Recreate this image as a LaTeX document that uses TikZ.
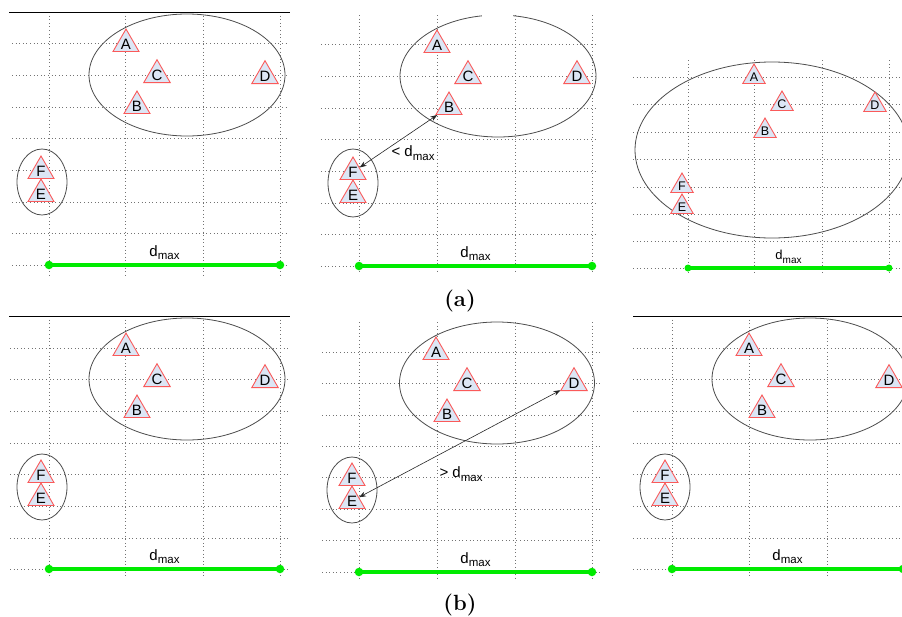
\documentclass[tikz,border=0pt]{standalone}
\usepackage{fontspec}
\newfontfamily\labelfont{Liberation Sans}
\usetikzlibrary{shapes.geometric}
\usetikzlibrary{arrows.meta}
\definecolor{stationred}{RGB}{250,90,90}
\definecolor{stationfill}{RGB}{220,230,245}
\definecolor{bargreen}{RGB}{0,235,0}
\newcommand{\dmaxlab}[1][11.5]{d\raisebox{-0.25em}{\fontsize{#1}{#1}\selectfont max}}

\begin{document}
\begin{tikzpicture}[x=1pt,y=-1pt,
  gridln/.style={black!55,line width=0.8pt,dash pattern=on 0.9pt off 2.7pt},
  topln/.style={black,line width=0.9pt},
  cluster/.style={black!70,line width=0.8pt},
  station/.style={regular polygon,regular polygon sides=3,draw=stationred,
                  fill=stationfill,line width=0.9pt,inner sep=0pt,minimum size=30pt,
                  font=\labelfont\fontsize{15}{15}\selectfont},
  smallstation/.style={station,minimum size=26pt,font=\labelfont\fontsize{12.5}{12.5}\selectfont},
  dbar/.style={draw=bargreen,line width=4pt},
  bardot/.style={circle,fill=bargreen,inner sep=0pt,minimum size=8.5pt},
  dlab/.style={font=\labelfont\fontsize{15}{15}\selectfont,inner sep=1pt},
  distarr/.style={black!85,line width=0.6pt,
                  {Stealth[length=7pt,width=5pt]}-{Stealth[length=7pt,width=5pt]}},
  caption/.style={font=\fontsize{22}{22}\selectfont\bfseries,anchor=base}]

  \useasboundingbox (0,0) rectangle (902,616);

  % ===== (a) left: two clusters =====
  \foreach \x in {49,125,203,280} \draw[gridln] (\x,12) -- (\x,277);
  \foreach \y in {43,75,107,138,170,202,233,265} \draw[gridln] (12,\y) -- (288,\y);
  \draw[topln] (9,12) -- (290,12);
  \draw[cluster] (187,75) ellipse [x radius=98pt,y radius=61pt];
  \draw[cluster] (42,182) ellipse [x radius=25pt,y radius=33pt];
  \node[bardot] (g1l) at (49,265) {};
  \node[bardot] (g1r) at (280,265) {};
  \draw[dbar] (g1l.center) -- (g1r.center) node[dlab,midway,above=2pt] (dm1) {\dmaxlab};
  \node[station] (A1) at (126,44) {A};
  \node[station] (C1) at (157,75) {C};
  \node[station] (D1) at (265,76) {D};
  \node[station] (B1) at (137,106) {B};
  \node[station] (F1) at (41,171) {F};
  \node[station] (E1) at (41,194) {E};

  % ===== (a) middle: F-B closer than d_max =====
  \foreach \x in {359,437,515,592} \draw[gridln] (\x,15) -- (\x,273);
  \foreach \y in {44,76,108,139,171,203,234,266} \draw[gridln] (321,\y) -- (598,\y);
  \draw[cluster] (498,76) ellipse [x radius=98pt,y radius=61pt];
  \fill[white] (482,9) rectangle (513,19);
  \draw[cluster] (353,183) ellipse [x radius=25pt,y radius=34pt];
  \node[bardot] (g2l) at (359,266) {};
  \node[bardot] (g2r) at (592,266) {};
  \draw[dbar] (g2l.center) -- (g2r.center) node[dlab,midway,above=2pt] (dm2) {\dmaxlab};
  \node[station] (A2) at (437,45) {A};
  \node[station] (C2) at (468,76) {C};
  \node[station] (D2) at (577,76) {D};
  \node[station] (B2) at (449,107) {B};
  \node[station] (F2) at (353,172) {F};
  \node[station] (E2) at (353,195) {E};
  \draw[distarr] (F2) -- (B2);
  \node[dlab] (lt2) at (413,153) {< \dmaxlab};

  % ===== (a) right: merged cluster =====
  \foreach \x in {688,754,822,889} \draw[gridln] (\x,60) -- (\x,275);
  \foreach \y in {77,104,132,159,187,214,241,268} \draw[gridln] (633,\y) -- (902,\y);
  \draw[cluster] (772,150) ellipse [x radius=137pt,y radius=88pt];
  \node[bardot,minimum size=7pt] (g3l) at (688,268) {};
  \node[bardot,minimum size=7pt] (g3r) at (889,268) {};
  \draw[dbar,line width=3.5pt] (g3l.center) -- (g3r.center)
     node[dlab,midway,above=2pt,font=\labelfont\fontsize{13}{13}\selectfont] (dm3) {\dmaxlab[10]};
  \node[smallstation] (A3) at (754,77) {A};
  \node[smallstation] (C3) at (782,104) {C};
  \node[smallstation] (D3) at (875,105) {D};
  \node[smallstation] (B3) at (765,131) {B};
  \node[smallstation] (F3) at (682,186) {F};
  \node[smallstation] (E3) at (682,207) {E};

  % ===== (b) left: two clusters =====
  \foreach \x in {49,125,203,280} \draw[gridln] (\x,316) -- (\x,578);
  \foreach \y in {348,379,411,443,474,506,538,569} \draw[gridln] (10,\y) -- (290,\y);
  \draw[topln] (9,316) -- (290,316);
  \draw[cluster] (187,379) ellipse [x radius=98pt,y radius=61pt];
  \draw[cluster] (42,487) ellipse [x radius=25pt,y radius=33pt];
  \node[bardot] (g4l) at (49,569) {};
  \node[bardot] (g4r) at (280,569) {};
  \draw[dbar] (g4l.center) -- (g4r.center) node[dlab,midway,above=2pt] (dm4) {\dmaxlab};
  \node[station] (A4) at (126,348) {A};
  \node[station] (C4) at (157,379) {C};
  \node[station] (D4) at (265,380) {D};
  \node[station] (B4) at (137,410) {B};
  \node[station] (F4) at (41,475) {F};
  \node[station] (E4) at (41,498) {E};

  % ===== (b) middle: E-D farther than d_max =====
  \foreach \x in {359,437,515,592} \draw[gridln] (\x,322) -- (\x,578);
  \foreach \y in {352,383,415,446,477,509,540,572} \draw[gridln] (322,\y) -- (600,\y);
  \draw[cluster] (497,383) ellipse [x radius=97.5pt,y radius=61pt];
  \draw[cluster] (352,490) ellipse [x radius=25pt,y radius=33pt];
  \node[bardot] (g5l) at (359,572) {};
  \node[bardot] (g5r) at (592,572) {};
  \draw[dbar] (g5l.center) -- (g5r.center) node[dlab,midway,above=2pt] (dm5) {\dmaxlab};
  \node[station] (A5) at (436,352) {A};
  \node[station] (C5) at (467,383) {C};
  \node[station] (D5) at (574,383) {D};
  \node[station] (B5) at (447,414) {B};
  \node[station] (F5) at (352,478) {F};
  \node[station] (E5) at (352,501) {E};
  \draw[distarr] (E5) -- (D5);
  \node[dlab] (gt5) at (461,474) {> \dmaxlab};

  % ===== (b) right: clusters kept apart =====
  \foreach \x in {672,749,827} \draw[gridln] (\x,316) -- (\x,578);
  \foreach \y in {348,379,411,443,474,506,538,569} \draw[gridln] (633,\y) -- (902,\y);
  \draw[topln] (633,316) -- (902,316);
  \draw[cluster] (810,379) ellipse [x radius=98pt,y radius=61pt];
  \draw[cluster] (665,487) ellipse [x radius=25pt,y radius=33pt];
  \node[bardot] (g6l) at (672,569) {};
  \node[bardot] (g6r) at (903,569) {};
  \draw[dbar] (g6l.center) -- (g6r.center) node[dlab,midway,above=2pt] (dm6) {\dmaxlab};
  \node[station] (A6) at (749,348) {A};
  \node[station] (C6) at (781,379) {C};
  \node[station] (D6) at (889,380) {D};
  \node[station] (B6) at (762,410) {B};
  \node[station] (F6) at (665,475) {F};
  \node[station] (E6) at (665,498) {E};

  % ===== captions =====
  \node[caption] (capa) at (460,306) {(a)};
  \node[caption] (capb) at (460,610) {(b)};

\end{tikzpicture}
\end{document}
